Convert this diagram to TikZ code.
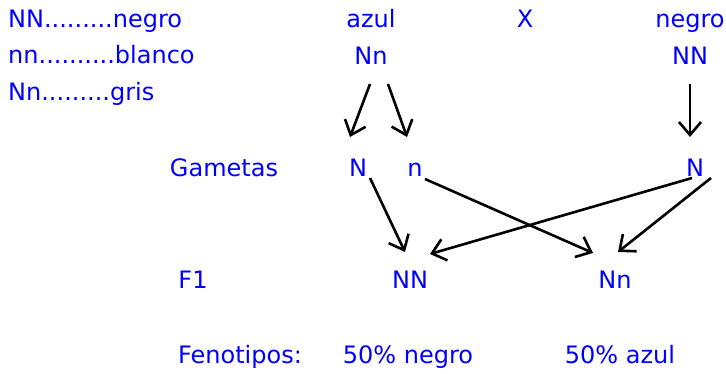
\documentclass[tikz,border=0pt]{standalone}
\usepackage{fontspec}
\setmainfont{DejaVu Sans}
\usetikzlibrary{arrows.meta}
\begin{document}
\begin{tikzpicture}[x=1pt,y=-1pt,
	txt/.style={text=blue,font=\fontsize{24}{27}\selectfont,inner sep=0pt,anchor=base},
	flecha/.style={line width=2.6pt,-{Straight Barb[length=13pt,width=22pt,line width=2.6pt]}}]
		\useasboundingbox (0,0) rectangle (726,374);
		% leyenda
		\node[txt,anchor=base west] (l1) at (8,28) {NN.........negro};
		\node[txt,anchor=base west] (l2) at (8,64) {nn..........blanco};
		\node[txt,anchor=base west] (l3) at (8,101) {Nn.........gris};
		% padres
		\node[txt] (f1) at (371,28) {azul};
		\node[txt] (x) at (525,28) {X};
		\node[txt] (f2) at (690,28) {negro};
		\node[txt] (p1) at (371,65) {Nn};
		\node[txt] (p2) at (690,65) {NN};
		% gametos
		\node[txt] (gam) at (224,177) {Gametas};
		\node[txt] (g1) at (358,177) {N};
		\node[txt] (g2) at (415,177) {n};
		\node[txt] (g3) at (695,177) {N};
		% F1
		\node[txt] (lf1) at (193,288) {F1};
		\node[txt] (h1) at (410,288) {NN};
		\node[txt] (h2) at (615,288) {Nn};
		\node[txt] (fen) at (240,363) {Fenotipos:};
		\node[txt] (r1) at (408,363) {50\% negro};
		\node[txt] (r2) at (620,363) {50\% azul};
		\draw[flecha] ([shift={(-1,19)}]p1.base) -- ([shift={(-8,-40)}]g1.base);
		\draw[flecha] ([shift={(17,19)}]p1.base) -- ([shift={(-8,-40)}]g2.base);
		\draw[flecha] ([shift={(0,19)}]p2.base) -- ([shift={(-5,-40)}]g3.base);
		\draw[flecha] ([shift={(12,1)}]g1.base) -- ([shift={(-5,-36)}]h1.base);
		\draw[flecha] ([shift={(10,2)}]g2.base) -- ([shift={(-22,-35)}]h2.base);
		\draw[flecha] ([shift={(-3,1)}]g3.base) -- ([shift={(20,-34)}]h1.base);
		\draw[flecha] ([shift={(16,1)}]g3.base) -- ([shift={(3,-36)}]h2.base);
	\end{tikzpicture}
\end{document}
